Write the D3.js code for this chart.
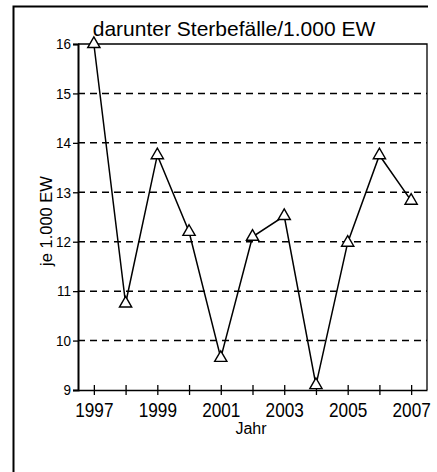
<!DOCTYPE html>
<html>
<head>
<meta charset="utf-8">
<script src="https://cdn.jsdelivr.net/npm/d3@7"></script>
<style>
  body { margin: 0; background: #fff; }
  svg { display: block; }
  .sans { font-family: "Liberation Sans", Arial, sans-serif; }
</style>
</head>
<body>
<svg id="chart" width="437" height="472"></svg>
<script>
// data
var years  = [1997, 1998, 1999, 2000, 2001, 2002, 2003, 2004, 2005, 2006, 2007];
var values = [16.0, 10.75, 13.75, 12.2, 9.65, 12.1, 12.52, 9.1, 11.98, 13.75, 12.83];
var yTicks = [9, 10, 11, 12, 13, 14, 15, 16];
var gridTicks = [10, 11, 12, 13, 14, 15];
var xLabels = [1997, 1999, 2001, 2003, 2005, 2007];

var svg = d3.select("#chart");

var x = d3.scaleLinear().domain([1996.5, 2007.5]).range([78, 427]);
var y = d3.scaleLinear().domain([9, 16]).range([390, 44]);

// outer frame of the scanned box (only left and top visible)
svg.append("path")
  .attr("d", "M13.5,472 L13.5,6.5 L428,6.5")
  .attr("fill", "none")
  .attr("stroke", "#000")
  .attr("stroke-width", 2);

// title
svg.append("text")
  .attr("class", "sans")
  .attr("x", 234).attr("y", 36)
  .attr("text-anchor", "middle")
  .attr("font-size", 21)
  .text("darunter Sterbefälle/1.000 EW");

// dashed grid
svg.append("g").selectAll("line")
  .data(gridTicks)
  .enter().append("line")
  .attr("x1", x.range()[0]).attr("x2", x.range()[1])
  .attr("y1", function(d) { return y(d); })
  .attr("y2", function(d) { return y(d); })
  .attr("stroke", "#000")
  .attr("stroke-width", 1.5)
  .attr("stroke-dasharray", "7,5");

// plot frame: top and right
svg.append("path")
  .attr("d", "M" + x.range()[0] + "," + y(16) + " L" + x.range()[1] + "," + y(16) + " L" + x.range()[1] + "," + y(9))
  .attr("fill", "none")
  .attr("stroke", "#000")
  .attr("stroke-width", 1.3);

// y axis
var yAxis = svg.append("g")
  .attr("class", "sans")
  .attr("transform", "translate(" + x.range()[0] + ",0)")
  .call(d3.axisLeft(y).tickValues(yTicks).tickSize(5).tickPadding(1).tickFormat(d3.format("d")));
yAxis.attr("font-family", null);
yAxis.select(".domain").attr("stroke-width", 2);
yAxis.selectAll(".tick line").attr("stroke-width", 1.3);
yAxis.selectAll(".tick text")
  .attr("font-size", 15).attr("fill", "#000")
  .attr("x", -7 / 0.9)
  .attr("transform", "scale(0.9,1)");

// x axis: tick every year crossing the line, labels on odd years
var xAxis = svg.append("g")
  .attr("class", "sans")
  .attr("transform", "translate(0," + y.range()[0] + ")")
  .call(d3.axisBottom(x).tickValues(years).tickSizeOuter(0).tickSizeInner(5).tickPadding(8)
    .tickFormat(function(d) { return xLabels.indexOf(d) >= 0 ? d : ""; }));
xAxis.attr("font-family", null);
xAxis.select(".domain").attr("stroke-width", 1.5);
xAxis.selectAll(".tick line").attr("y1", -5).attr("stroke-width", 1.3);
xAxis.selectAll(".tick text")
  .attr("font-size", 20).attr("fill", "#000")
  .attr("transform", "scale(0.86,1)");

// axis titles
svg.append("text")
  .attr("class", "sans")
  .attr("x", 251).attr("y", 434)
  .attr("text-anchor", "middle")
  .attr("font-size", 16)
  .text("Jahr");

svg.append("text")
  .attr("class", "sans")
  .attr("transform", "translate(52,221) rotate(-90)")
  .attr("text-anchor", "middle")
  .attr("font-size", 16.5)
  .text("je 1.000 EW");

// series line
var line = d3.line()
  .x(function(d, i) { return x(years[i]); })
  .y(function(d) { return y(d); });

svg.append("path")
  .datum(values)
  .attr("d", line)
  .attr("fill", "none")
  .attr("stroke", "#000")
  .attr("stroke-width", 1.5);

// open triangle markers
svg.append("g").selectAll("path")
  .data(values)
  .enter().append("path")
  .attr("transform", function(d, i) { return "translate(" + x(years[i]) + "," + y(d) + ")"; })
  .attr("d", d3.symbol().type(d3.symbolTriangle).size(65))
  .attr("fill", "#fff")
  .attr("stroke", "#000")
  .attr("stroke-width", 1.4);
</script>
</body>
</html>
